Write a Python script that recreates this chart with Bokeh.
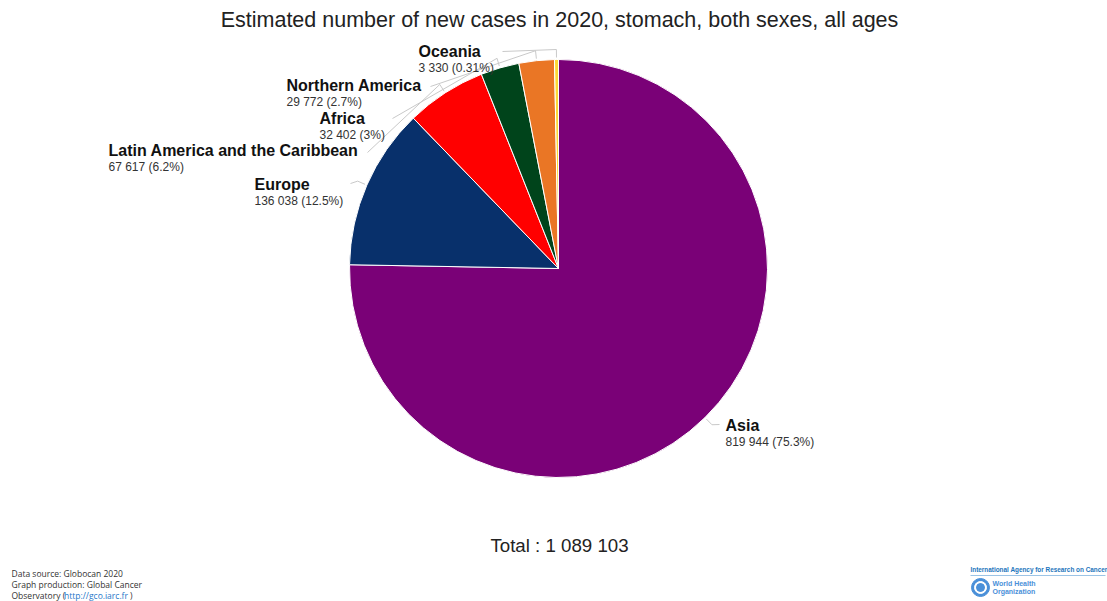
import math

from bokeh.core.properties import value
from bokeh.embed import file_html
from bokeh.models import ColumnDataSource, Range1d
from bokeh.plotting import figure
from bokeh.resources import INLINE

# --- data -----------------------------------------------------------------
regions = ["Asia", "Europe", "Latin America and the Caribbean", "Africa",
           "Northern America", "Oceania"]
cases = [819944, 136038, 67617, 32402, 29772, 3330]
colors = ["#7a0177", "#08306b", "#ff0000", "#00441b", "#ea7625", "#fdd835"]

title_text = "Estimated number of new cases in 2020, stomach, both sexes, all ages"
footer_lines = ["Data source: Globocan 2020", "Graph production: Global Cancer"]

# --- layout (screen pixels, measured from the top-left corner) -------------
W, H = 1107, 601
CX, CY, R = 558, 268, 209
# left edge / vertical centre of each region name
label_anchor = {
    "Asia": (725, 425),
    "Europe": (254, 184),
    "Latin America and the Caribbean": (108, 150),
    "Africa": (319, 118),
    "Northern America": (286, 85),
    "Oceania": (418, 51),
}
# where each connector line meets its label
connector_end = {
    "Asia": (719, 424),
    "Europe": (350, 183),
    "Latin America and the Caribbean": (367, 152),
    "Africa": (392, 118),
    "Northern America": (430, 86),
    "Oceania": (502, 51),
}


def fy(py):
    """Screen y (down) to plot y (up)."""
    return H - py


def fmt_count(n):
    return f"{n:,}".replace(",", " ")


def fmt_pct(f):
    pct = 100 * f
    s = f"{pct:.2f}" if pct < 1 else f"{pct:.1f}"
    if "." in s:
        s = s.rstrip("0").rstrip(".")
    return s + "%"


total = sum(cases)
fractions = [c / total for c in cases]
starts, ends = [], []
acc = 0.0
for f in fractions:
    starts.append(math.pi / 2 - 2 * math.pi * acc)
    acc += f
    ends.append(math.pi / 2 - 2 * math.pi * acc)

p = figure(width=W, height=H, x_range=Range1d(0, W), y_range=Range1d(0, H),
           output_backend="svg", toolbar_location=None,
           x_axis_type=None, y_axis_type=None, min_border=0)
p.grid.visible = False
p.outline_line_color = None
p.background_fill_color = "white"
p.border_fill_color = "white"

# pie slices, clockwise from twelve o'clock
src = ColumnDataSource(dict(region=regions, start=starts, end=ends, color=colors))
p.wedge(x=CX, y=fy(CY), radius=R, start_angle="start", end_angle="end",
        direction="clock", fill_color="color", line_color="white",
        line_width=1, source=src)

# connector lines from each slice to its label
xs, ys = [], []
for reg, f, s, e in zip(regions, fractions, starts, ends):
    mid = (s + e) / 2
    x0, y0 = CX + (R + 2) * math.cos(mid), fy(CY) + (R + 2) * math.sin(mid)
    x1, y1 = CX + (R + 10) * math.cos(mid), fy(CY) + (R + 10) * math.sin(mid)
    ex, ey = connector_end[reg]
    xs.append([x0, x1, ex])
    ys.append([y0, y1, fy(ey)])
p.multi_line(xs=xs, ys=ys, line_color="#c9c9c9", line_width=1)

# region names and values
name_x, name_y, val_y, val_txt = [], [], [], []
for reg, c, f in zip(regions, cases, fractions):
    ax, ay = label_anchor[reg]
    name_x.append(ax)
    name_y.append(fy(ay))
    val_y.append(fy(ay + 16.5))
    val_txt.append(f"{fmt_count(c)} ({fmt_pct(f)})")

p.text(x=name_x, y=name_y, text=regions, text_font=value("Liberation Sans"),
       text_font_size="16px", text_font_style="bold", text_color="#111111",
       text_align="left", text_baseline="middle")
p.text(x=name_x, y=val_y, text=val_txt, text_font=value("Liberation Sans"),
       text_font_size="12px", text_color="#333333",
       text_align="left", text_baseline="middle")

# title and total
p.text(x=[559], y=[fy(19)], text=[title_text],
       text_font=value("Liberation Sans"), text_font_size="21.5px",
       text_color="#222222", text_align="center", text_baseline="middle")
p.text(x=[559], y=[fy(545)], text=[f"Total : {fmt_count(total)}"],
       text_font=value("Liberation Sans"), text_font_size="18.7px",
       text_color="#222222", text_align="center", text_baseline="middle")

# footer: data source
FS = "8.5px"
p.text(x=[11, 11], y=[fy(573), fy(584)], text=footer_lines,
       text_font=value("Open Sans"), text_font_size=FS, text_color="#333333",
       text_align="left", text_baseline="middle")
p.text(x=[11], y=[fy(595)], text=["Observatory ("],
       text_font=value("Open Sans"), text_font_size=FS, text_color="#333333",
       text_align="left", text_baseline="middle")
p.text(x=[63.5], y=[fy(595)], text=["http://gco.iarc.fr"],
       text_font=value("Open Sans"), text_font_size=FS, text_color="#1f77c9",
       text_align="left", text_baseline="middle")
p.text(x=[129.5], y=[fy(595)], text=[")"],
       text_font=value("Open Sans"), text_font_size=FS, text_color="#333333",
       text_align="left", text_baseline="middle")

# footer: agency marks
p.text(x=[970], y=[fy(569)], text=["International Agency for Research on Cancer"],
       text_font=value("Liberation Sans"), text_font_size="6.4px",
       text_font_style="bold", text_color="#1c75bc",
       text_align="left", text_baseline="middle")
p.line(x=[970, 1105], y=[fy(575), fy(575)], line_color="#9cc4e6", line_width=1)
p.scatter(x=[980], y=[fy(587)], size=18, marker="circle",
          fill_color="#4a90d9", line_color="#4a90d9")
p.scatter(x=[980], y=[fy(587)], size=12, marker="circle",
          fill_color="white", line_color="white")
p.scatter(x=[980], y=[fy(587)], size=8, marker="circle_cross",
          fill_color="#4a90d9", line_color="#4a90d9")
p.text(x=[992, 992], y=[fy(583), fy(591)], text=["World Health", "Organization"],
       text_font=value("Liberation Sans"), text_font_size="7px",
       text_font_style="bold", text_color="#4a90d9",
       text_align="left", text_baseline="middle")

open("out.html", "w").write(file_html(p, INLINE))
